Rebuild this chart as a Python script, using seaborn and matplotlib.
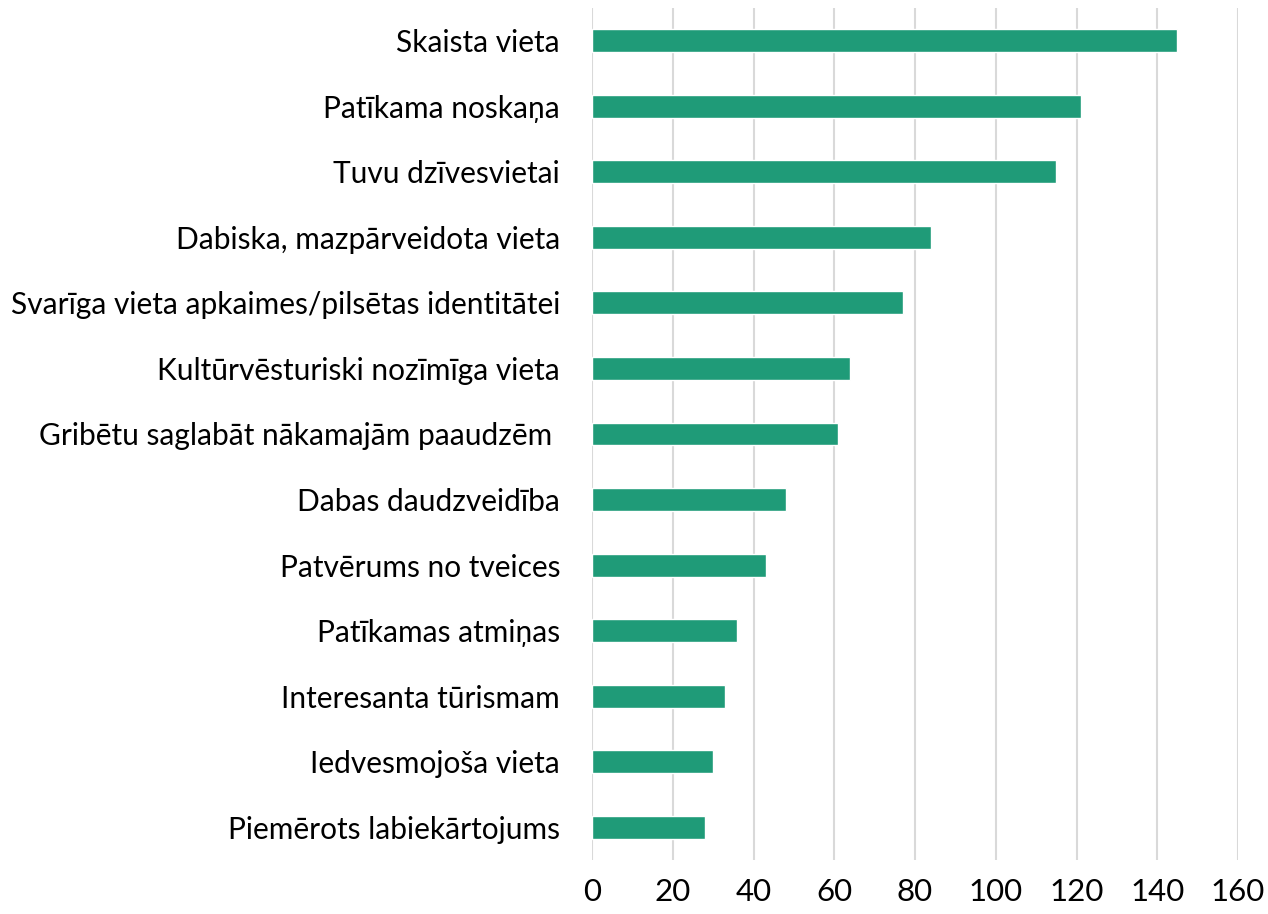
import matplotlib
matplotlib.use("Agg")
import matplotlib.pyplot as plt
import seaborn as sns
import pandas as pd

# Data
categories = [
    "Skaista vieta",
    "Patīkama noskaņa",
    "Tuvu dzīvesvietai",
    "Dabiska, mazpārveidota vieta",
    "Svarīga vieta apkaimes/pilsētas identitātei",
    "Kultūrvēsturiski nozīmīga vieta",
    "Gribētu saglabāt nākamajām paaudzēm ",
    "Dabas daudzveidība",
    "Patvērums no tveices",
    "Patīkamas atmiņas",
    "Interesanta tūrismam",
    "Iedvesmojoša vieta",
    "Piemērots labiekārtojums",
]
counts = [145, 121, 115, 84, 77, 64, 61, 48, 43, 36, 33, 30, 28]
x_ticks = [0, 20, 40, 60, 80, 100, 120, 140, 160]

df = pd.DataFrame({"category": categories, "count": counts})

sns.set_style("white")
plt.rcParams["font.family"] = ["Lato", "DejaVu Sans"]

fig = plt.figure(figsize=(12.68, 9.14), dpi=100)
ax = fig.add_axes([592 / 1268, 54 / 914, (1238 - 592) / 1268, (906 - 54) / 914])

sns.barplot(data=df, x="count", y="category", orient="h", color="#1F9B78",
            width=0.35, saturation=1, ax=ax, zorder=3)

ax.set_xlim(0, 160)
ax.set_ylim(12.5, -0.5)
ax.set_xticks(x_ticks)
ax.xaxis.grid(True, color="#d9d9d9", linewidth=1.5, zorder=0)
ax.yaxis.grid(False)
ax.set_axisbelow(True)
for s in ax.spines.values():
    s.set_visible(False)
ax.set_xlabel("")
ax.set_ylabel("")
ax.tick_params(axis="y", length=0, pad=23, labelsize=21.5, labelcolor="black")
ax.tick_params(axis="x", length=0, pad=13, labelsize=22.5, labelcolor="black")

fig.savefig("out.png", dpi=100)
